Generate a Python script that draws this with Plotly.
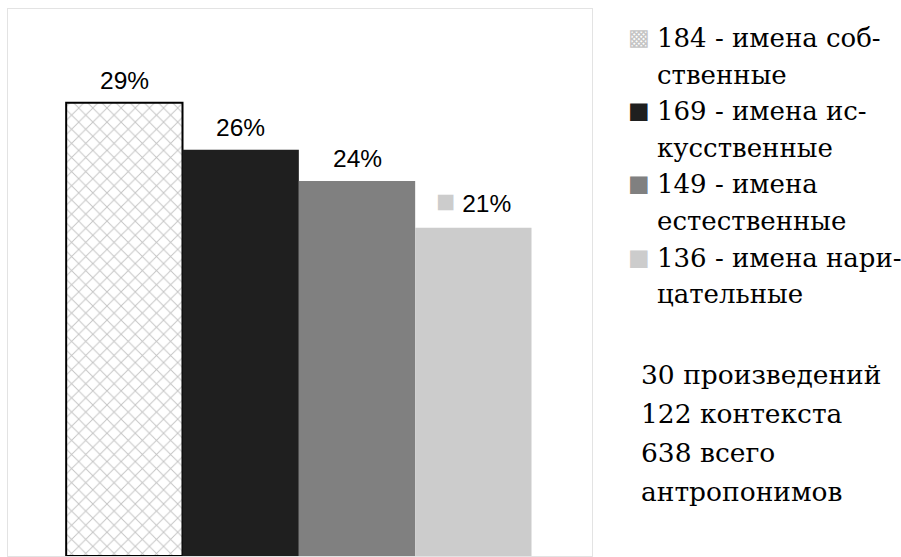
import plotly.graph_objects as go

# Share of anthroponym types (percent of 638) and their counts
categories = ["имена собственные", "имена искусственные", "имена естественные", "имена нарицательные"]
counts = [184, 169, 149, 136]
percents = [29, 26, 24, 21]
legend_labels = [
    "184 - имена соб-<br>ственные",
    "169 - имена ис-<br>кусственные",
    "149 - имена<br>естественные",
    "136 - имена нари-<br>цательные",
]
bar_colors = ["#ffffff", "#1f1f1f", "#808080", "#cccccc"]
swatch_glyphs = ["▩", "■", "■", "■"]
swatch_colors = ["#c4c4c4", "#1f1f1f", "#808080", "#cccccc"]
swatch_sizes = [23, 36, 36, 36]
summary_lines = ["30 произведений", "122 контекста", "638 всего", "антропонимов"]

W, H = 901, 557
M_L, M_R, M_T, M_B = 8, 309, 9, 1
SERIF = "DejaVu Serif"
SANS = "Liberation Sans"


def px_x(px):
    return (px - M_L) / (W - M_L - M_R)


def px_y(py):
    return (H - M_B - py) / (H - M_T - M_B)


fig = go.Figure()

for i, cat in enumerate(categories):
    hatched = i == 0
    fig.add_trace(go.Bar(
        x=[cat],
        y=[percents[i]],
        name=legend_labels[i],
        width=1,
        showlegend=False,
        marker=dict(
            color=bar_colors[i],
            line=dict(color="#000000", width=2 if hatched else 0),
            pattern=dict(shape="x", fgcolor="#8a8a8a", bgcolor="#ffffff",
                         size=10, solidity=0.18) if hatched else None,
        ),
        hoverinfo="skip",
    ))

# Percent labels above each bar
for i, cat in enumerate(categories):
    label = f"{percents[i]}%"
    if i == len(categories) - 1:
        label = (f"<span style='color:{bar_colors[i]};font-size:32px'>■</span> {label}")
    fig.add_annotation(
        x=cat, y=percents[i], xref="x", yref="y",
        text=label, showarrow=False,
        yanchor="bottom", yshift=7,
        font=dict(family=SANS, size=24.5, color="#000000"),
    )

# Key: swatch + two-line caption per category
LEG_FS = 26
LEG_BASE0 = 47
LEG_PITCH = 36.6
line_no = 0
for i, label in enumerate(legend_labels):
    parts = label.split("<br>")
    first_base = LEG_BASE0 + line_no * LEG_PITCH
    fig.add_annotation(
        x=px_x(639), y=px_y(first_base - 9.5), xref="paper", yref="paper",
        xanchor="center", yanchor="middle",
        text=f"<span style='color:{swatch_colors[i]}'>{swatch_glyphs[i]}</span>",
        showarrow=False, font=dict(family=SANS, size=swatch_sizes[i]),
    )
    for part in parts:
        base = LEG_BASE0 + line_no * LEG_PITCH
        fig.add_annotation(
            x=px_x(655), y=px_y(base - 0.35 * LEG_FS), xref="paper", yref="paper",
            xanchor="left", yanchor="middle", align="left",
            text=part, showarrow=False,
            font=dict(family=SERIF, size=LEG_FS, color="#000000"),
        )
        line_no += 1

# Corpus summary under the key
SUM_FS = 26.5
SUM_BASE0 = 384
SUM_PITCH = 39
for j, line in enumerate(summary_lines):
    base = SUM_BASE0 + j * SUM_PITCH
    fig.add_annotation(
        x=px_x(639), y=px_y(base - 0.35 * SUM_FS), xref="paper", yref="paper",
        xanchor="left", yanchor="middle", align="left",
        text=line, showarrow=False,
        font=dict(family=SERIF, size=SUM_FS, color="#000000"),
    )

fig.update_layout(
    width=W, height=H,
    margin=dict(l=M_L, r=M_R, t=M_T, b=M_B),
    paper_bgcolor="#ffffff", plot_bgcolor="#ffffff",
    barmode="overlay",
    showlegend=False,
    xaxis=dict(
        type="category", categoryarray=categories, range=[-1, 4.02],
        showticklabels=False, showgrid=False, zeroline=False, ticks="",
        showline=True, linecolor="#e3e3e3", linewidth=1, mirror=True,
    ),
    yaxis=dict(
        range=[0, 35], showticklabels=False, showgrid=False, zeroline=False, ticks="",
        showline=True, linecolor="#e3e3e3", linewidth=1, mirror=True,
    ),
)

fig.write_html("out.html")
